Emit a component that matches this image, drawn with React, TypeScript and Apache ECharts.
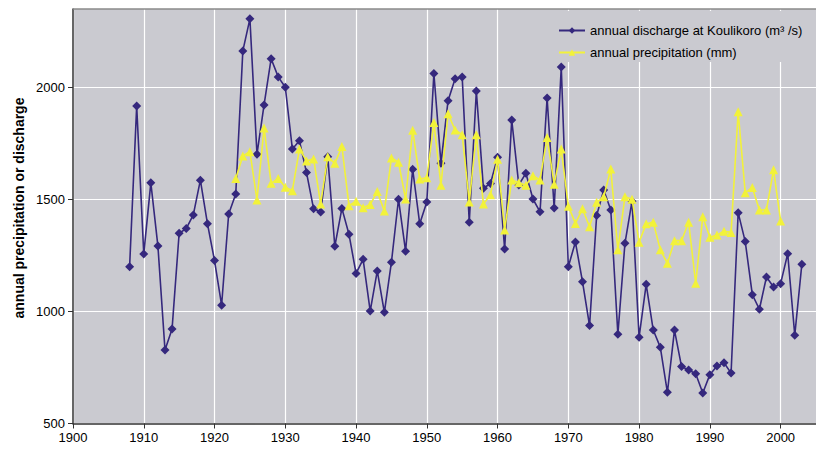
import React, { useEffect, useRef } from "react";
import * as echarts from "echarts";

const dischargeYears = [1908, 1909, 1910, 1911, 1912, 1913, 1914, 1915, 1916, 1917, 1918, 1919, 1920, 1921, 1922, 1923, 1924, 1925, 1926, 1927, 1928, 1929, 1930, 1931, 1932, 1933, 1934, 1935, 1936, 1937, 1938, 1939, 1940, 1941, 1942, 1943, 1944, 1945, 1946, 1947, 1948, 1949, 1950, 1951, 1952, 1953, 1954, 1955, 1956, 1957, 1958, 1959, 1960, 1961, 1962, 1963, 1964, 1965, 1966, 1967, 1968, 1969, 1970, 1971, 1972, 1973, 1974, 1975, 1976, 1977, 1978, 1979, 1980, 1981, 1982, 1983, 1984, 1985, 1986, 1987, 1988, 1989, 1990, 1991, 1992, 1993, 1994, 1995, 1996, 1997, 1998, 1999, 2000, 2001, 2002, 2003];
const discharge = [1200, 1917, 1257, 1574, 1292, 828, 922, 1349, 1370, 1431, 1586, 1392, 1227, 1028, 1435, 1524, 2163, 2306, 1702, 1922, 2128, 2047, 2001, 1725, 1762, 1620, 1458, 1444, 1691, 1291, 1460, 1345, 1170, 1233, 1002, 1181, 996, 1220, 1501, 1269, 1635, 1391, 1489, 2062, 1661, 1941, 2039, 2047, 1398, 1984, 1550, 1571, 1688, 1279, 1855, 1565, 1617, 1502, 1445, 1953, 1462, 2091, 1200, 1310, 1133, 937, 1428, 1542, 1453, 898, 1304, 1492, 885, 1121, 917, 840, 639, 917, 754, 739, 722, 636, 718, 757, 771, 725, 1441, 1312, 1075, 1010, 1154, 1109, 1124, 1258, 894, 1211];

const precipYears = [1923, 1924, 1925, 1926, 1927, 1928, 1929, 1930, 1931, 1932, 1933, 1934, 1935, 1936, 1937, 1938, 1939, 1940, 1941, 1942, 1943, 1944, 1945, 1946, 1947, 1948, 1949, 1950, 1951, 1952, 1953, 1954, 1955, 1956, 1957, 1958, 1959, 1960, 1961, 1962, 1963, 1964, 1965, 1966, 1967, 1968, 1969, 1970, 1971, 1972, 1973, 1974, 1975, 1976, 1977, 1978, 1979, 1980, 1981, 1982, 1983, 1984, 1985, 1986, 1987, 1988, 1989, 1990, 1991, 1992, 1993, 1994, 1995, 1996, 1997, 1998, 1999, 2000];
const precipitation = [1593, 1694, 1713, 1498, 1819, 1572, 1594, 1554, 1539, 1725, 1672, 1681, 1480, 1691, 1661, 1736, 1472, 1492, 1463, 1477, 1535, 1448, 1685, 1666, 1502, 1809, 1591, 1597, 1843, 1563, 1882, 1810, 1789, 1489, 1789, 1480, 1521, 1679, 1364, 1587, 1575, 1563, 1606, 1587, 1776, 1568, 1725, 1470, 1393, 1458, 1378, 1487, 1512, 1636, 1275, 1512, 1501, 1309, 1391, 1398, 1275, 1215, 1316, 1316, 1398, 1126, 1423, 1331, 1341, 1358, 1353, 1891, 1530, 1553, 1453, 1453, 1632, 1404];

const xTicks = [1900, 1910, 1920, 1930, 1940, 1950, 1960, 1970, 1980, 1990, 2000];
const yTicks = [500, 1000, 1500, 2000];

const seriesNames = ["annual discharge at Koulikoro (m\u00B3 /s)", "annual precipitation (mm)"];
const yTitle = "annual precipitation or discharge";

export default function App() {
  const ref = useRef<HTMLDivElement>(null);
  useEffect(() => {
    if (!ref.current) return;
    const chart = echarts.init(ref.current, null, { renderer: "svg" });
    const font = "Liberation Sans, Arial, sans-serif";
    const bg = "#CACAD0";
    chart.setOption({
      animation: false,
      textStyle: { fontFamily: font },
      grid: {
        left: 73,
        right: -2.5,
        top: 9,
        bottom: 31.5,
        show: true,
        backgroundColor: bg,
        borderWidth: 0,
      },
      legend: {
        orient: "vertical",
        left: 556,
        top: 11,
        itemWidth: 26,
        itemHeight: 8,
        itemGap: 7,
        backgroundColor: bg,
        padding: [12, 8, 2, 2],
        textStyle: { fontFamily: font, fontSize: 13, color: "#000", lineHeight: 15 },
        data: seriesNames,
      },
      xAxis: {
        type: "value",
        min: 1900,
        max: 2005,
        interval: 10,
        axisLine: { onZero: false, lineStyle: { color: "#333", width: 1.5 } },
        axisTick: { show: true, length: 5, lineStyle: { color: "#333" }, customValues: xTicks },
        axisLabel: {
          color: "#000",
          fontSize: 13,
          fontFamily: font,
          margin: 7,
          customValues: xTicks,
          formatter: (v: number) => String(v),
        },
        splitLine: { show: true, lineStyle: { color: "#FFFFFF", width: 1.2 } },
      },
      yAxis: {
        type: "value",
        min: 500,
        max: 2350,
        interval: 500,
        axisLine: { show: true, lineStyle: { color: "#333", width: 1.5 } },
        axisTick: { show: true, length: 5, lineStyle: { color: "#333" }, customValues: yTicks },
        axisLabel: {
          color: "#000",
          fontSize: 13,
          fontFamily: font,
          margin: 8,
          customValues: yTicks,
          formatter: (v: number) => String(v),
        },
        splitLine: { show: true, lineStyle: { color: "#FFFFFF", width: 1.2 } },
      },
      graphic: [
        {
          type: "line",
          shape: { x1: 73, y1: 9, x2: 816, y2: 9 },
          style: { stroke: "#8A8A8A", lineWidth: 1.5 },
          z: 100,
        },
        {
          type: "text",
          x: 19,
          y: 208,
          rotation: Math.PI / 2,
          style: {
            text: yTitle,
            fontFamily: font,
            fontSize: 14,
            fontWeight: "bold",
            fill: "#000",
            align: "center",
            verticalAlign: "middle",
          },
        },
      ],
      series: [
        {
          name: seriesNames[0],
          type: "line",
          data: dischargeYears.map((y, i) => [y, discharge[i]]),
          symbol: "diamond",
          symbolSize: 9,
          lineStyle: { color: "#35287D", width: 1.6 },
          itemStyle: { color: "#35287D" },
          z: 2,
        },
        {
          name: seriesNames[1],
          type: "line",
          data: precipYears.map((y, i) => [y, precipitation[i]]),
          symbol: "triangle",
          symbolSize: 9,
          lineStyle: { color: "#F2F23A", width: 1.6 },
          itemStyle: { color: "#F2F23A" },
          z: 3,
        },
      ],
    });
    return () => chart.dispose();
  }, []);
  return <div ref={ref} style={{ width: 816, height: 455, position: "absolute", left: 0, top: 0 }} />;
}
